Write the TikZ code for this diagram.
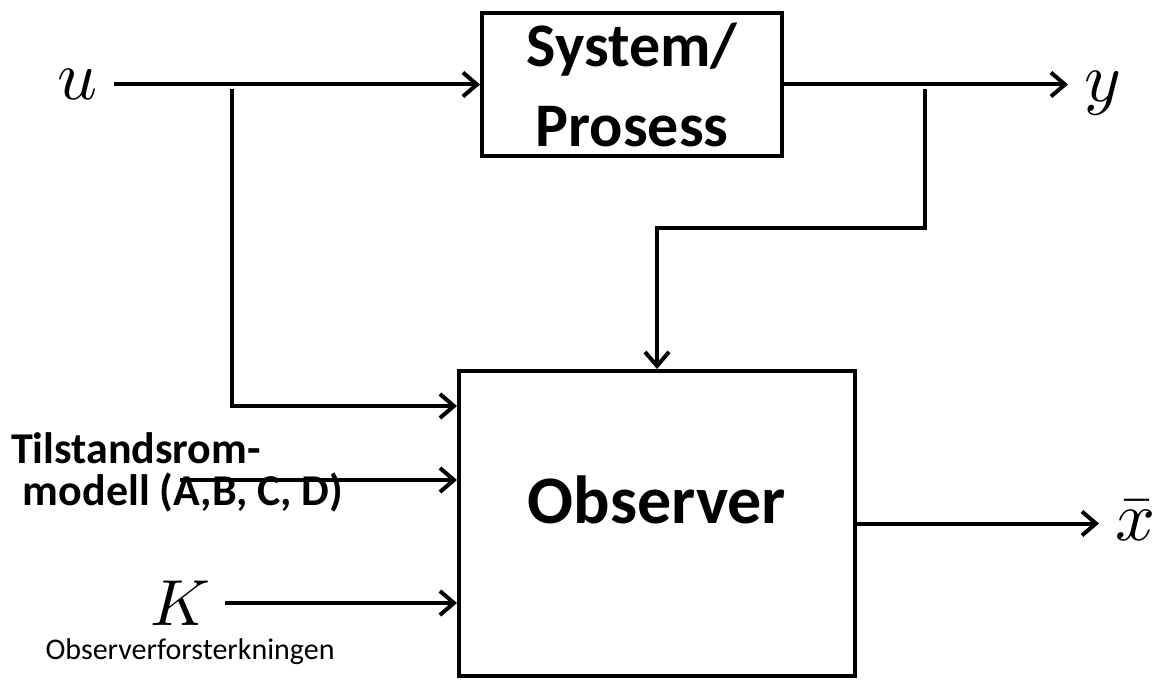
\documentclass[tikz,border=0pt]{standalone}
\usepackage{fontspec}
\setmainfont{Carlito}
\usetikzlibrary{arrows.meta,positioning}

\begin{document}
\begin{tikzpicture}[
    x=1pt, y=-1pt,
    line width=4pt,
    block/.style={draw, rectangle, inner sep=0pt, align=center, font=\bfseries\fontsize{62}{80}\selectfont},
    sym/.style={inner sep=0.3pt, scale=7},
    side/.style={inner sep=0pt, font=\bfseries\fontsize{44}{44}\selectfont},
    arr/.style={draw, -{Straight Barb[length=14pt,width=24pt]}}
]
\useasboundingbox (0,0) rectangle (1160,682);

% blocks
\node[block, minimum width=300pt, minimum height=143pt] (sys) at (632,84.5) {System/\\Prosess};
\node[block, minimum width=396pt, minimum height=305pt, text height=30pt, text depth=30pt,
      font=\bfseries\fontsize{68}{70}\selectfont] (obs) at (657,523.5) {Observer};

% signals
\node[sym, anchor=east] (u) at (114,84.5) {$u$};
\node[sym, anchor=mid west] (y) at (1068,84.5) {$y$};
\node[sym, anchor=mid west] (xbar) at ([xshift=242pt]obs.east) {$\bar{x}$};
\node[sym, scale=0.93, anchor=east] (K) at (225,603) {$K$};
\node[anchor=base, font=\fontsize{30}{32}\selectfont] (kgain) at (190,659) {Observerforsterkningen};
\node[side, anchor=base west] (tsm) at (9,463) {Tilstandsrom-};
\node[side, anchor=base west] (mod) at (21,505) {modell (A,B, C, D)};

\coordinate (usplit) at (232,89);
\coordinate (ysplit) at (925,89);
\coordinate (tsmin) at (180,480);

\draw[arr] (u.east) -- (sys.west);
\draw[arr] (sys.east) -- (y.mid west);
\draw[arr] (usplit) |- ([yshift=-37pt]obs.north west);
\draw[arr] (ysplit) -- ++(0,139) -| (obs.north);
\draw[arr] (tsmin) -- (obs.west |- tsmin);
\draw[arr] (K.east) -- (obs.west |- K.east);
\draw[arr] (obs.east) -- (xbar.mid west);
\end{tikzpicture}
\end{document}
